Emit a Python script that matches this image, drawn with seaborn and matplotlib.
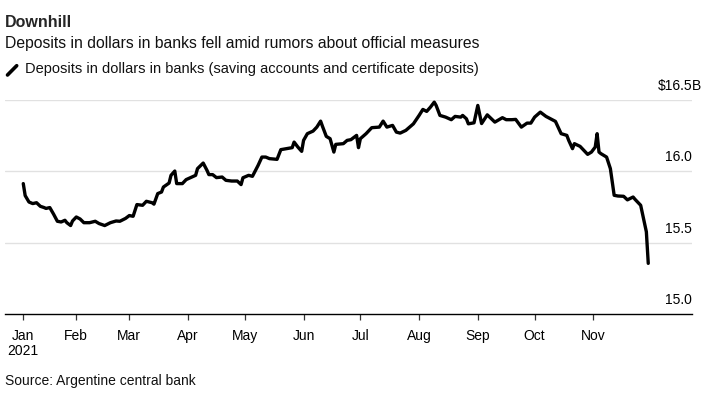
import pandas as pd
import matplotlib.pyplot as plt
import matplotlib.transforms as mtransforms
from matplotlib.lines import Line2D
import seaborn as sns

# day of year 2021 (0 = Jan 1) and deposits in billions of dollars
day_of_year = [3, 4, 6, 8, 10, 12, 14, 15, 17, 19, 21, 23, 25, 26, 28, 29, 31, 33, 35, 38,
               41, 43, 46, 49, 52, 54, 57, 59, 61, 63, 66, 68, 71, 72, 74, 76, 77, 80, 81, 83,
               84, 87, 89, 94, 95, 98, 100, 101, 103, 105, 108, 110, 113, 116, 118, 119, 122, 124, 127, 129,
               131, 133, 137, 139, 142, 145, 146, 148, 150, 151, 153, 156, 158, 160, 161, 163, 165, 167, 168, 172,
               174, 176, 179, 180, 181, 184, 187, 191, 193, 195, 198, 200, 202, 205, 209, 212, 214, 216, 218, 220,
               221, 223, 226, 229, 231, 234, 235, 237, 238, 241, 243, 245, 248, 252, 256, 258, 261, 263, 266, 269,
               271, 273, 276, 279, 284, 287, 290, 291, 293, 294, 297, 301, 303, 305, 306, 307, 308, 311, 313, 315,
               317, 320, 322, 325, 326, 329, 332, 333]
deposits = [15.914, 15.83, 15.785, 15.774, 15.78, 15.755, 15.746, 15.74, 15.746, 15.70,
            15.65, 15.645, 15.657, 15.64, 15.62, 15.652, 15.68, 15.666, 15.64, 15.64,
            15.65, 15.634, 15.62, 15.64, 15.652, 15.65, 15.67, 15.69, 15.685, 15.767,
            15.762, 15.79, 15.78, 15.77, 15.844, 15.855, 15.89, 15.918, 15.972, 16.002,
            15.914, 15.914, 15.942, 15.972, 16.019, 16.058, 16.007, 15.977, 15.977, 15.956,
            15.96, 15.937, 15.932, 15.932, 15.907, 15.955, 15.972, 15.965, 16.042, 16.10,
            16.10, 16.089, 16.084, 16.152, 16.159, 16.166, 16.205, 16.17, 16.14, 16.217,
            16.264, 16.282, 16.31, 16.352, 16.315, 16.245, 16.229, 16.135, 16.189, 16.194,
            16.217, 16.222, 16.252, 16.166, 16.229, 16.264, 16.306, 16.31, 16.352, 16.31,
            16.322, 16.275, 16.268, 16.287, 16.333, 16.392, 16.434, 16.42, 16.45, 16.485,
            16.462, 16.392, 16.38, 16.362, 16.385, 16.38, 16.392, 16.368, 16.333, 16.34,
            16.462, 16.335, 16.396, 16.345, 16.376, 16.362, 16.362, 16.364, 16.31, 16.338,
            16.338, 16.38, 16.415, 16.385, 16.35, 16.264, 16.252, 16.217, 16.159, 16.194,
            16.175, 16.119, 16.135, 16.17, 16.264, 16.135, 16.124, 16.10, 16.019, 15.832,
            15.827, 15.825, 15.80, 15.82, 15.804, 15.762, 15.576, 15.355]

tick_dates = ['2021-01-04', '2021-02-01', '2021-03-01', '2021-04-01', '2021-05-01', '2021-06-01',
              '2021-07-01', '2021-08-01', '2021-09-01', '2021-10-01', '2021-11-01']
tick_labels = ['Jan\n2021', 'Feb', 'Mar', 'Apr', 'May', 'Jun', 'Jul', 'Aug', 'Sep', 'Oct', 'Nov']
y_ticks = [15.0, 15.5, 16.0, 16.5]
y_labels = ['15.0', '15.5', '16.0', '$16.5']

start = pd.Timestamp('2021-01-01')
df = pd.DataFrame({'date': start + pd.to_timedelta(day_of_year, unit='D'), 'value': deposits})

sns.set_theme(style='white')
plt.rcParams['font.family'] = ['Liberation Sans', 'DejaVu Sans']

W, H = 716, 394
fig = plt.figure(figsize=(W / 100, H / 100), dpi=100)
ax = fig.add_axes([5 / W, 1 - 314 / H, 687 / W, 214 / H])

sns.lineplot(data=df, x='date', y='value', color='black', linewidth=2.4, ax=ax)
for ln in ax.get_lines():
    ln.set_clip_on(False)
    ln.set_solid_joinstyle('round')

ax.set_xlim(start - pd.Timedelta(days=6.65), start + pd.Timedelta(days=356.1))
ax.set_ylim(15.0, 16.5)

for v in y_ticks[1:]:
    ax.axhline(v, color='#e1e1e1', linewidth=1.0, zorder=0)

for s in ['top', 'right', 'left']:
    ax.spines[s].set_visible(False)
ax.spines['bottom'].set_color('black')
ax.spines['bottom'].set_linewidth(1.0)

ax.set_xticks(pd.to_datetime(tick_dates))
ax.set_xticklabels(tick_labels, fontsize=10, color='black', linespacing=1.15)
ax.tick_params(axis='x', direction='out', length=4, width=0.9, color='#333333', pad=6.5, bottom=True)
ax.set_yticks([])
ax.set_xlabel('')
ax.set_ylabel('')

# right-side value labels sitting above the gridlines
off = mtransforms.offset_copy(ax.get_yaxis_transform(), fig=fig, x=0, y=5, units='points')
for v, lab in zip(y_ticks, y_labels):
    ax.text(1.0, v, lab, transform=off, ha='right', va='bottom', fontsize=10, color='black')
ax.text(1.0, 16.5, 'B', transform=off, ha='left', va='bottom', fontsize=10, color='black')

fig.text(5 / W, 1 - 26.7 / H, 'Downhill', fontsize=11.5, fontweight='bold', va='baseline', ha='left')
fig.text(5 / W, 1 - 48.3 / H, 'Deposits in dollars in banks fell amid rumors about official measures',
         fontsize=11.3, va='baseline', ha='left', color='#111111')
fig.text(25 / W, 1 - 72.7 / H, 'Deposits in dollars in banks (saving accounts and certificate deposits)',
         fontsize=10.5, va='baseline', ha='left', color='#111111')
fig.add_artist(Line2D([7.5 / W, 16.7 / W], [1 - 75 / H, 1 - 65.7 / H], color='black',
                      linewidth=2.6, transform=fig.transFigure))
fig.text(5 / W, 1 - 385 / H, 'Source: Argentine central bank', fontsize=10, va='baseline',
         ha='left', color='#111111')

fig.savefig('out.png', dpi=100)
